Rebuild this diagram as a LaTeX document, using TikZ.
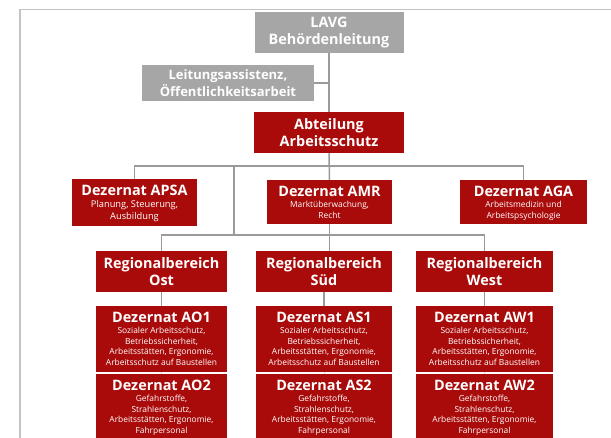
\documentclass[tikz,border=0pt]{standalone}
\usepackage{fontspec}
\setmainfont{Open Sans}
\definecolor{boxred}{HTML}{A90B0B}
\definecolor{boxgrey}{HTML}{A6A6A6}
\definecolor{linegrey}{HTML}{9A9A9A}
\definecolor{framegrey}{HTML}{C4C4C4}
\tikzset{
  redbox/.style={rectangle, fill=boxred, draw=none, inner sep=0pt, text=white, align=center},
  greybox/.style={rectangle, fill=boxgrey, draw=none, inner sep=0pt, text=white, align=center},
  bigtitle/.style={font=\bfseries\fontsize{14.4}{16.7}\selectfont},
  ttl/.style={inner sep=0pt, text=white, font=\bfseries\fontsize{14.4}{16}\selectfont},
  sub/.style={inner sep=0pt, text=white, align=center, font=\fontsize{8.4}{10.4}\selectfont},
  bigsub/.style={font=\fontsize{9.3}{12}\selectfont},
  conn/.style={draw=linegrey, line width=1.5pt},
  faint/.style={draw=white!80!boxred, line width=1pt},
  frameline/.style={draw=framegrey, line width=1.5pt}
}
\newcommand\dezbox[8][]{%
  \node[redbox, minimum width=#5, minimum height=#6] (#2) at (#3,#4) {};
  \node[ttl] (#2-t) at ([yshift=-11.7pt]#2.north) {#7};
  \node[sub, anchor=north, #1] (#2-s) at ([yshift=-21.5pt]#2.north) {#8};}
\begin{document}
\begin{tikzpicture}[x=1pt,y=-1pt]
\useasboundingbox (0,0) rectangle (611,437);
\clip (0,0) rectangle (611,437);
% frame
\draw[frameline] (611,9.5) -- (20,9.5) -- (20,440);
% top level
\node[greybox, bigtitle, minimum width=149, minimum height=41] (lavg) at (329,32.5) {LAVG\\Behördenleitung};
\node[greybox, font=\bfseries\fontsize{13}{17}\selectfont, minimum width=172, minimum height=36] (la) at (228,83) {Leitungsassistenz,\\Öffentlichkeitsarbeit};
\node[redbox, bigtitle, minimum width=150, minimum height=41] (abt) at (329,132.5) {Abteilung\\Arbeitsschutz};
% second row
\dezbox[bigsub]{apsa}{134.5}{202.5}{125}{47}{Dezernat APSA}{Planung, Steuerung,\\Ausbildung}
\dezbox{amr}{329.5}{202}{125}{44}{Dezernat AMR}{Marktüberwachung,\\Recht}
\dezbox{aga}{523.5}{202}{127}{44}{Dezernat AGA}{Arbeitsmedizin und\\Arbeitspsychologie}
% regional
\node[redbox, bigtitle, minimum width=131, minimum height=41] (ost) at (161.5,271.5) {Regionalbereich\\Ost};
\node[redbox, bigtitle, minimum width=136, minimum height=41] (sued) at (324,271.5) {Regionalbereich\\Süd};
\node[redbox, bigtitle, minimum width=137, minimum height=41] (west) at (484.5,271.5) {Regionalbereich\\West};
% dezernate
\dezbox{ao1}{161.5}{339}{131}{66}{Dezernat AO1}{Sozialer Arbeitsschutz,\\Betriebssicherheit,\\Arbeitsstätten, Ergonomie,\\Arbeitsschutz auf Baustellen}
\dezbox{as1}{324}{339}{136}{66}{Dezernat AS1}{Sozialer Arbeitsschutz,\\Betriebssicherheit,\\Arbeitsstätten, Ergonomie,\\Arbeitsschutz auf Baustellen}
\dezbox{aw1}{484.5}{339}{137}{66}{Dezernat AW1}{Sozialer Arbeitsschutz,\\Betriebssicherheit,\\Arbeitsstätten, Ergonomie,\\Arbeitsschutz auf Baustellen}
\dezbox{ao2}{161.5}{407}{131}{66}{Dezernat AO2}{Gefahrstoffe,\\Strahlenschutz,\\Arbeitsstätten, Ergonomie,\\Fahrpersonal}
\dezbox{as2}{324}{407}{136}{66}{Dezernat AS2}{Gefahrstoffe,\\Strahlenschutz,\\Arbeitsstätten, Ergonomie,\\Fahrpersonal}
\dezbox{aw2}{484.5}{407}{137}{66}{Dezernat AW2}{Gefahrstoffe,\\Strahlenschutz,\\Arbeitsstätten, Ergonomie,\\Fahrpersonal}
% bus coordinates
\coordinate (b1) at (0,166);
\coordinate (b2) at (0,235);
\coordinate (jn) at (234,166);
% connectors
\draw[conn] (lavg.south) -- (abt.north);
\draw[conn] (la.east) -- (la.east -| lavg.south);
\draw[conn] (abt.south) -- (amr.north);
\draw[conn] (apsa.north) -- (apsa.north |- b1) -- (aga.north |- b1) -- (aga.north);
\draw[conn] (jn) -- (jn |- b2);
\draw[conn] (ost.north) -- (ost.north |- b2) -- (west.north |- b2) -- (west.north);
\draw[conn] (amr.south) -- (amr.south |- sued.north);
\draw[conn] (ost.south) -- (ao1.north);
\draw[conn] (sued.south) -- (as1.north);
\draw[conn] (west.south) -- (aw1.north);
\draw[faint] (ao1.south) -- (ao2.north);
\draw[faint] (as1.south) -- (as2.north);
\draw[faint] (aw1.south) -- (aw2.north);
\end{tikzpicture}
\end{document}
